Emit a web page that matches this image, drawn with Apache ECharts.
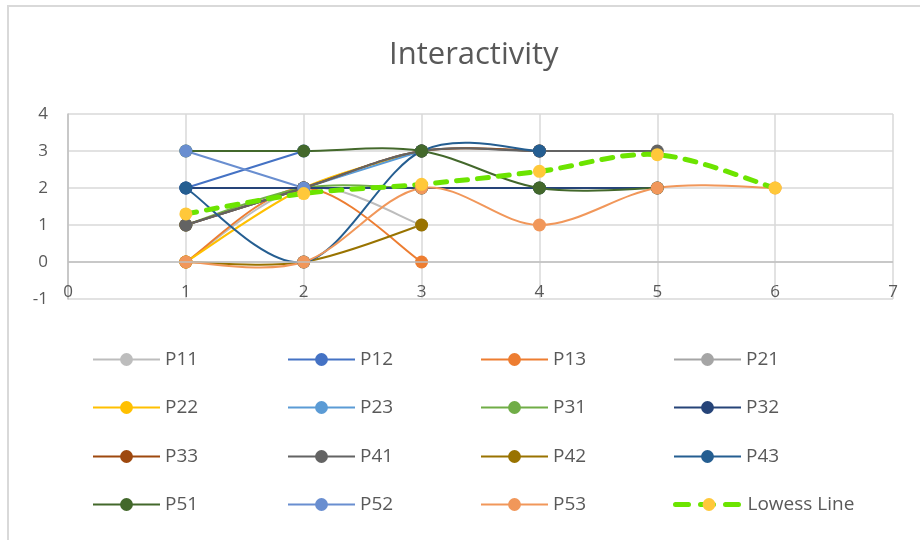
<!DOCTYPE html>
<html>
<head>
<meta charset="utf-8">
<title>Interactivity</title>
<script src="https://cdn.jsdelivr.net/npm/echarts@6/dist/echarts.min.js"></script>
<style>
  html, body { margin: 0; padding: 0; background: #ffffff; }
  #chart { width: 920px; height: 540px; }
</style>
</head>
<body>
<div id="chart"></div>
<script>
// Session number on the x axis (each participant starts at session 1)
const sessions = [1, 2, 3, 4, 5, 6];

// Interactivity ratings per participant, in session order
const P11 = [0, 2, 1];
const P12 = [2, 3];
const P13 = [0, 2, 0];
const P21 = [1, 2, 3, 3];
const P22 = [0, 2, 3];
const P23 = [1, 2, 3];
const P31 = [1, 2, 2, 2];
const P32 = [2, 2, 2, 2, 2];
const P33 = [1, 2, 3, 3];
const P41 = [1, 2, 3, 3, 3];
const P42 = [0, 0, 1];
const P43 = [2, 0, 3, 3];
const P51 = [3, 3, 3, 2, 2];
const P52 = [3, 2];
const P53 = [0, 0, 2, 1, 2, 2];
const lowess = [1.3, 1.85, 2.1, 2.45, 2.9, 2.0];

const yTicks = [-1, 0, 1, 2, 3, 4];
const xTicks = [0, 1, 2, 3, 4, 5, 6, 7];

const participants = [
  { name: 'P11', values: P11, color: '#BDBDBD' },
  { name: 'P12', values: P12, color: '#4472C4' },
  { name: 'P13', values: P13, color: '#ED7D31' },
  { name: 'P21', values: P21, color: '#A5A5A5' },
  { name: 'P22', values: P22, color: '#FFC000' },
  { name: 'P23', values: P23, color: '#5B9BD5' },
  { name: 'P31', values: P31, color: '#70AD47' },
  { name: 'P32', values: P32, color: '#264478' },
  { name: 'P33', values: P33, color: '#9E480E' },
  { name: 'P41', values: P41, color: '#636363' },
  { name: 'P42', values: P42, color: '#997300' },
  { name: 'P43', values: P43, color: '#255E91' },
  { name: 'P51', values: P51, color: '#43682B' },
  { name: 'P52', values: P52, color: '#698ED0' },
  { name: 'P53', values: P53, color: '#F1975A' },
  { name: 'Lowess Line', values: lowess, color: '#FFC83A',
    line: { color: '#6CE400', width: 5, dash: [11, 10], cap: 'round' },
    legendLine: { color: '#6CE400', width: 5, type: [13, 12], cap: 'round' } }
];

const FONT = '"Open Sans", Lato, sans-serif';
const TEXT = '#595959';
const GRID = '#D9D9D9';

const toPoints = vals => vals.map((v, i) => [sessions[i], v]);

// Catmull-Rom style smoothing through the pixel positions of the points
function smoothPath(pts) {
  let d = 'M' + pts[0][0] + ',' + pts[0][1];
  for (let i = 0; i < pts.length - 1; i++) {
    const p0 = pts[i - 1] || pts[i];
    const p1 = pts[i];
    const p2 = pts[i + 1];
    const p3 = pts[i + 2] || pts[i + 1];
    const c1x = p1[0] + (p2[0] - p0[0]) / 6;
    const c1y = p1[1] + (p2[1] - p0[1]) / 6;
    const c2x = p2[0] - (p3[0] - p1[0]) / 6;
    const c2y = p2[1] - (p3[1] - p1[1]) / 6;
    d += ' C' + c1x + ',' + c1y + ' ' + c2x + ',' + c2y + ' ' + p2[0] + ',' + p2[1];
  }
  return d;
}

const series = [];
participants.forEach((p, idx) => {
  const line = p.line || { color: p.color, width: 2, dash: null, cap: 'butt' };
  // smoothed connecting curve
  series.push({
    type: 'custom',
    id: 'curve-' + p.name,
    data: toPoints(p.values),
    silent: true,
    animation: false,
    renderItem: (params, api) => {
      if (params.dataIndex !== 0) return null;
      const pts = p.values.map((v, i) => api.coord([sessions[i], v]));
      return {
        type: 'path',
        shape: { pathData: smoothPath(pts) },
        style: {
          fill: 'none',
          stroke: line.color,
          lineWidth: line.width,
          lineDash: line.dash,
          lineCap: line.cap
        }
      };
    },
    // darker zero line of the value axis
    markLine: idx === 0 ? {
      silent: true,
      symbol: 'none',
      label: { show: false },
      lineStyle: { color: '#BFBFBF', width: 1.5, type: 'solid' },
      data: [{ yAxis: 0 }],
      animation: false
    } : undefined
  });
  // markers (and legend entry)
  series.push({
    name: p.name,
    type: 'line',
    data: toPoints(p.values),
    symbol: 'circle',
    symbolSize: 13,
    showSymbol: true,
    color: p.color,
    lineStyle: { width: 0, opacity: 0 },
    itemStyle: { color: p.color },
    emphasis: { disabled: true },
    animation: false
  });
});

// Legend laid out as a 4-column table
const legendCols = [92, 287, 480, 673];
const legendRows = [358, 406, 455, 503];
const legends = participants.map((p, i) => {
  const ll = p.legendLine || { color: p.color, width: 2, type: 'solid', cap: 'butt' };
  return {
    data: [p.name],
    left: legendCols[i % 4],
    top: legendRows[Math.floor(i / 4)] - 8,
    padding: 0,
    itemWidth: 67,
    itemHeight: 16,
    itemGap: 0,
    selectedMode: false,
    lineStyle: { color: ll.color, width: ll.width, type: ll.type, cap: ll.cap, opacity: 1 },
    textStyle: { fontFamily: FONT, fontSize: 19, color: TEXT, padding: [0, 0, 0, 0] }
  };
});

const chart = echarts.init(document.getElementById('chart'), null, { renderer: 'canvas' });
chart.setOption({
  backgroundColor: '#ffffff',
  animation: false,
  title: {
    text: 'Interactivity',
    left: 384,
    top: 35,
    textStyle: { fontFamily: FONT, fontSize: 31, fontWeight: 'normal', color: TEXT }
  },
  graphic: [{
    type: 'rect',
    shape: { x: 8, y: 6, width: 1000, height: 1000 },
    style: { fill: 'none', stroke: GRID, lineWidth: 2 },
    silent: true
  }],
  grid: { left: 68, right: 27, top: 114, bottom: 241, containLabel: false },
  xAxis: {
    type: 'value',
    min: xTicks[0],
    max: xTicks[xTicks.length - 1],
    interval: 1,
    axisLine: { show: false },
    axisTick: { show: false },
    axisLabel: { margin: -15, fontFamily: FONT, fontSize: 17, color: TEXT },
    splitLine: { show: true, lineStyle: { color: GRID, width: 1.5 } }
  },
  yAxis: {
    type: 'value',
    min: yTicks[0],
    max: yTicks[yTicks.length - 1],
    interval: 1,
    axisLine: { show: true, onZero: false, lineStyle: { color: '#BFBFBF', width: 1.5 } },
    axisTick: { show: false },
    axisLabel: { margin: 20, fontFamily: FONT, fontSize: 17, color: TEXT },
    splitLine: { show: true, lineStyle: { color: GRID, width: 1.5 } }
  },
  legend: legends,
  series: series
});
</script>
</body>
</html>
